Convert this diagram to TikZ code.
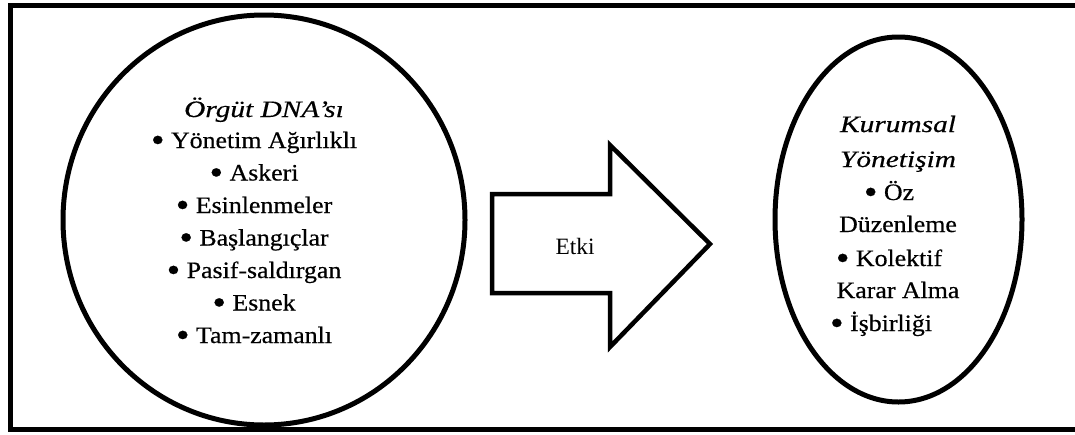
\documentclass[tikz,border=0pt]{standalone}
\usepackage{fontspec}
\usepackage{graphicx}
\setmainfont{Liberation Serif}
\newfontfamily\bodyfont{Liberation Serif}[FakeStretch=1.1,FakeBold=0.5]
\newfontfamily\headfont{Liberation Serif}[FakeStretch=1.25,FakeBold=0.5]
\newcommand\mybul{\raisebox{-3.6pt}{\scalebox{1.5}{•}}}
\usetikzlibrary{shapes.geometric}
\begin{document}
\begin{tikzpicture}[x=1pt,y=-1pt,
  frame/.style={line width=5pt},
  blob/.style={ellipse, draw, line width=5pt, inner sep=0pt},
  bigarrow/.style={line width=4.5pt, line join=miter},
  txt/.style={anchor=base, inner sep=0pt, font=\bodyfont\fontsize{23.5}{28}\selectfont},
  head/.style={anchor=base, inner sep=0pt, font=\headfont\itshape\fontsize{23.5}{28}\selectfont},
  lbl/.style={anchor=base, inner sep=0pt, font=\fontsize{23.4}{28}\selectfont}]
\useasboundingbox (0,0) rectangle (1075,434);
\clip (0,0) rectangle (1075,434);
\fill[white] (0,0) rectangle (1075,434);
\draw[frame] (10,5) rectangle (1090,429.5);
% left circle
\node[blob, minimum width=402pt, minimum height=410pt] (dna) at (264,220) {};
\node[head] (dnat) at (264,117) {Örgüt DNA’sı};
\foreach \t [count=\i] in {Yönetim Ağırlıklı, Askeri, Esinlenmeler, Başlangıçlar, Pasif-saldırgan, Esnek, Tam-zamanlı}
  \node[txt] (a\i) at (254,{148+32.5*(\i-1)}) {\mybul{} \t};
% arrow
\draw[bigarrow] (492,194) -- (610,194) -- (610,145) -- (710,244) -- (610,347) -- (610,293) -- (492,293) -- cycle;
\node[lbl] (etki) at (575,254) {Etki};
% right ellipse
\node[blob, minimum width=247pt, minimum height=365pt] (kur) at (898.5,219.5) {};
\node[head] (k1) at (898,132) {Kurumsal};
\node[head] (k2) at (898,167) {Yönetişim};
\node[txt] (b1) at (889,200) {\mybul{} Öz};
\node[txt] (b2) at (898,232) {Düzenleme};
\node[txt] (b3) at (889,266) {\mybul{} Kolektif};
\node[txt] (b4) at (898,298) {Karar Alma};
\node[txt] (b5) at (881,331) {\mybul{} İşbirliği};
\end{tikzpicture}
\end{document}
